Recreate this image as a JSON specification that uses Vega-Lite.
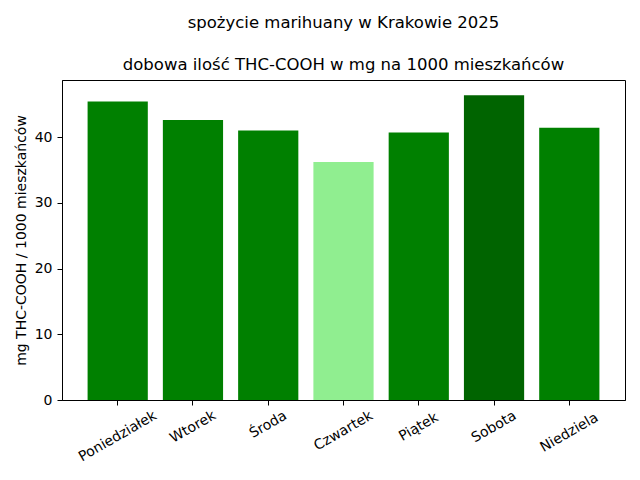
{
  "$schema": "https://vega.github.io/schema/vega-lite/v6.json",
  "autosize": {"type": "none"},
  "padding": {"left": 62, "top": 80, "right": 15, "bottom": 80},
  "width": 563,
  "height": 320,
  "title": {
    "text": ["spożycie marihuany w Krakowie 2025", "dobowa ilość THC-COOH w mg na 1000 mieszkańców"],
    "font": "DejaVu Sans",
    "fontSize": 16.5,
    "fontWeight": "normal",
    "color": "black",
    "lineHeight": 42,
    "anchor": "middle",
    "offset": 7
  },
  "data": {
    "values": [
      {"dzien": "Poniedziałek", "thc": 45.4},
      {"dzien": "Wtorek", "thc": 42.6},
      {"dzien": "Środa", "thc": 41.0},
      {"dzien": "Czwartek", "thc": 36.2},
      {"dzien": "Piątek", "thc": 40.7},
      {"dzien": "Sobota", "thc": 46.35},
      {"dzien": "Niedziela", "thc": 41.4}
    ]
  },
  "mark": "bar",
  "encoding": {
    "x": {
      "field": "dzien",
      "type": "nominal",
      "sort": null,
      "title": null,
      "scale": {"paddingInner": 0.2, "paddingOuter": 0.34},
      "axis": {
        "labelAngle": -30,
        "labelAlign": "center",
        "labelBaseline": "middle",
        "labelPadding": {
          "condition": [
            {"test": "datum.label == 'Poniedziałek'", "value": 31},
            {"test": "datum.label == 'Niedziela'", "value": 27.2},
            {"test": "datum.label == 'Czwartek'", "value": 25.5},
            {"test": "datum.label == 'Środa'", "value": 19.3}
          ],
          "value": 21.6
        },
        "labelFont": "DejaVu Sans",
        "labelFontSize": 14,
        "labelColor": "black",
        "tickColor": "black",
        "tickSize": 5,
        "domainColor": "black"
      }
    },
    "y": {
      "field": "thc",
      "type": "quantitative",
      "title": "mg THC-COOH / 1000 mieszkańców",
      "scale": {"domain": [0, 48.67], "nice": false},
      "axis": {
        "values": [0, 10, 20, 30, 40],
        "grid": false,
        "labelFont": "DejaVu Sans",
        "labelFontSize": 14,
        "labelColor": "black",
        "labelPadding": 5,
        "tickColor": "black",
        "tickSize": 5,
        "domainColor": "black",
        "titleFont": "DejaVu Sans",
        "titleFontSize": 14,
        "titleFontWeight": "normal",
        "titleColor": "black",
        "titlePadding": 6
      }
    },
    "color": {
      "field": "dzien",
      "type": "nominal",
      "legend": null,
      "scale": {
        "domain": ["Poniedziałek", "Wtorek", "Środa", "Czwartek", "Piątek", "Sobota", "Niedziela"],
        "range": ["#008000", "#008000", "#008000", "#90ee90", "#008000", "#006400", "#008000"]
      }
    }
  },
  "config": {
    "view": {"stroke": "black", "strokeWidth": 1},
    "background": "white"
  }
}
